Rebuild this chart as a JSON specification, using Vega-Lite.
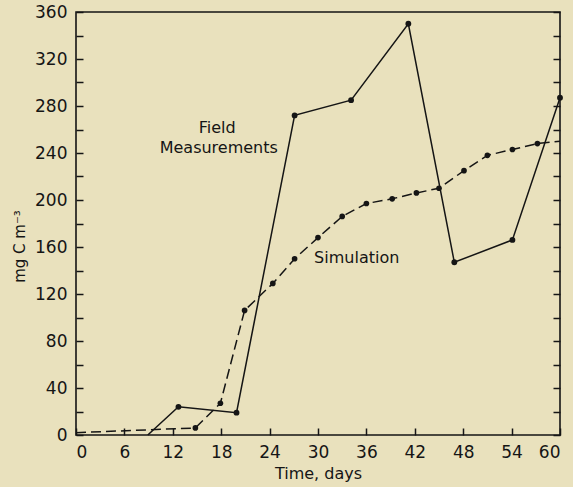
{
  "$schema": "https://vega.github.io/schema/vega-lite/v6.json",
  "width": 484,
  "height": 423,
  "autosize": {"type": "none"},
  "padding": {"left": 76, "top": 12, "right": 13, "bottom": 52},
  "background": "#e9e1bd",
  "config": {
    "font": "DejaVu Sans",
    "view": {"stroke": "#151515", "strokeWidth": 1.6},
    "axis": {
      "domain": false,
      "grid": false,
      "tickColor": "#151515",
      "tickWidth": 1.5,
      "labelColor": "#151515",
      "titleColor": "#151515",
      "labelFontSize": 17,
      "labelFont": "DejaVu Sans",
      "titleFont": "DejaVu Sans",
      "titleFontWeight": "normal"
    }
  },
  "datasets": {
    "field": [
      {"day": 8.9, "value": 0},
      {"day": 12.7, "value": 24},
      {"day": 19.9, "value": 19},
      {"day": 27.1, "value": 272},
      {"day": 34.1, "value": 285},
      {"day": 41.2, "value": 350},
      {"day": 46.9, "value": 147},
      {"day": 54.1, "value": 166},
      {"day": 60, "value": 287}
    ],
    "sim": [
      {"day": 0, "value": 2},
      {"day": 14.8, "value": 6},
      {"day": 17.9, "value": 27},
      {"day": 20.9, "value": 106},
      {"day": 24.4, "value": 129},
      {"day": 27.1, "value": 150},
      {"day": 30.0, "value": 168},
      {"day": 33.0, "value": 186},
      {"day": 36.0, "value": 197},
      {"day": 39.2, "value": 201},
      {"day": 42.2, "value": 206},
      {"day": 45.0, "value": 210},
      {"day": 48.1, "value": 225},
      {"day": 51.0, "value": 238},
      {"day": 54.1, "value": 243},
      {"day": 57.2, "value": 248},
      {"day": 60, "value": 250}
    ],
    "labels": [
      {"day": 17.5, "value": 261, "text": "Field"},
      {"day": 17.7, "value": 244, "text": "Measurements"},
      {"day": 34.8, "value": 151, "text": "Simulation"}
    ]
  },
  "resolve": {"axis": {"y": "independent"}},
  "layer": [
    {
      "data": {"name": "field"},
      "mark": {"type": "line", "color": "#151515", "strokeWidth": 1.5},
      "encoding": {
        "x": {
          "field": "day", "type": "quantitative",
          "scale": {"domain": [0, 60], "nice": false},
          "axis": {
            "values": [0,3,6,9,12,15,18,21,24,27,30,33,36,39,42,45,48,51,54,57,60],
            "labelExpr": "datum.value % 6 == 0 ? datum.label : ''",
            "tickSize": -7,
            "labelPadding": 16,
            "title": "Time, days",
            "titleFontSize": 16,
            "titleY": 43,
            "titleBaseline": "alphabetic",
            "titleAnchor": "middle"
          }
        },
        "y": {
          "field": "value", "type": "quantitative",
          "scale": {"domain": [0, 360], "nice": false},
          "axis": {
            "orient": "left",
            "values": [0,20,40,60,80,100,120,140,160,180,200,220,240,260,280,300,320,340,360],
            "labelExpr": "datum.value % 40 == 0 ? datum.label : ''",
            "tickSize": -7,
            "labelPadding": 16,
            "title": "mg C m⁻³",
            "titleFontSize": 15,
            "titleAngle": -90,
            "titleX": -57,
            "titleY": 234,
            "titleAlign": "center",
            "titleBaseline": "middle"
          }
        }
      }
    },
    {
      "data": {"name": "field"},
      "transform": [{"filter": "datum.value > 0"}],
      "mark": {"type": "point", "filled": true, "color": "#151515", "size": 34, "opacity": 1},
      "encoding": {
        "x": {"field": "day", "type": "quantitative"},
        "y": {"field": "value", "type": "quantitative", "axis": null}
      }
    },
    {
      "data": {"name": "sim"},
      "mark": {"type": "line", "color": "#151515", "strokeWidth": 1.5, "strokeDash": [10, 5]},
      "encoding": {
        "x": {"field": "day", "type": "quantitative"},
        "y": {"field": "value", "type": "quantitative", "axis": null}
      }
    },
    {
      "data": {"name": "sim"},
      "transform": [{"filter": "datum.day > 0 && datum.day < 60"}],
      "mark": {"type": "point", "filled": true, "color": "#151515", "size": 32, "opacity": 1},
      "encoding": {
        "x": {"field": "day", "type": "quantitative"},
        "y": {
          "field": "value", "type": "quantitative",
          "axis": {
            "orient": "right",
            "values": [0,20,40,60,80,100,120,140,160,180,200,220,240,260,280,300,320,340,360],
            "labels": false,
            "tickSize": -7,
            "title": null
          }
        }
      }
    },
    {
      "data": {"name": "labels"},
      "mark": {"type": "text", "fontSize": 16, "color": "#151515", "align": "center", "baseline": "middle", "font": "DejaVu Sans"},
      "encoding": {
        "x": {"field": "day", "type": "quantitative"},
        "y": {"field": "value", "type": "quantitative", "axis": null},
        "text": {"field": "text"}
      }
    }
  ]
}
